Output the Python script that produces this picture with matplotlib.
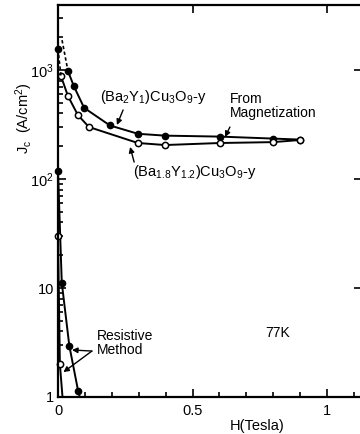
import matplotlib
matplotlib.use("Agg")
import matplotlib.pyplot as plt
from matplotlib.ticker import FixedLocator, NullFormatter, LogLocator

plt.rcParams['font.family'] = ['Liberation Sans', 'DejaVu Sans']
plt.rcParams['mathtext.fontset'] = 'custom'
plt.rcParams['mathtext.rm'] = 'Liberation Sans'
plt.rcParams['mathtext.it'] = 'Liberation Sans'

# magnetization data, H in tesla, Jc in A/cm2
h_ba2 = [0.037, 0.059, 0.097, 0.193, 0.297, 0.398, 0.602, 0.799, 0.90]
jc_ba2 = [980, 710, 450, 310, 260, 250, 245, 235, 230]
h_ba18 = [0.011, 0.037, 0.074, 0.115, 0.297, 0.398, 0.602, 0.799, 0.90]
jc_ba18 = [880, 577, 386, 300, 214, 205, 214, 218, 228]

# dashed extrapolation toward H=0
h_dash_ba2 = [0.015, 0.037]
jc_dash_ba2 = [1880, 980]
h_dash_ba18 = [0.0, 0.011]
jc_dash_ba18 = [1560, 880]

# resistive method
h_res_filled = [0.0, 0.014, 0.042, 0.075]
jc_res_filled = [118, 11.2, 2.96, 1.13]
h_res_open = [0.0, 0.007]
jc_res_open = [30, 2.0]

fig = plt.figure(figsize=(3.6, 4.34), dpi=100)
ax = fig.add_axes([58 / 360, 1 - 397 / 434, 304 / 360, 392 / 434])
ax.set_yscale('log')
ax.set_xlim(0, 1.13)
ax.set_ylim(1, 3950)

lw = 1.4
ax.plot(h_ba2, jc_ba2, '-', color='black', lw=lw, marker='o', ms=4.5,
        mfc='black', clip_on=False)
ax.plot(h_ba18, jc_ba18, '-', color='black', lw=lw, marker='o', ms=4.5,
        mfc='white', mew=1.1, clip_on=False)
ax.plot(h_dash_ba2, jc_dash_ba2, '--', color='black', lw=1.2, dashes=(2, 1.5))
ax.plot(h_dash_ba18, jc_dash_ba18, '--', color='black', lw=1.2, dashes=(2, 1.5))
ax.plot(h_dash_ba18[:1], jc_dash_ba18[:1], 'o', color='black', ms=4.5, clip_on=False)

# resistive curves run down to the axis
ax.plot(h_res_filled + [0.082], jc_res_filled + [0.98], '-', color='black', lw=lw)
ax.plot(h_res_filled, jc_res_filled, 'o', color='black', ms=4.5, clip_on=False)
ax.plot(h_res_open + [0.017], jc_res_open + [0.98], '-', color='black', lw=lw)
ax.plot(h_res_open, jc_res_open, 'o', color='black', mfc='white', mew=1.1,
        ms=4.5, clip_on=False)

# ticks
ax.xaxis.set_major_locator(FixedLocator([0, 0.5, 1]))
ax.set_xticklabels(['0', '0.5', '1'])
ax.xaxis.set_minor_locator(FixedLocator([0.1, 0.2, 0.3, 0.4, 0.6, 0.7, 0.8, 0.9, 1.1]))
ax.yaxis.set_major_locator(FixedLocator([1, 10, 100, 1000]))
ax.set_yticklabels(['1', '10', '10$^2$', '10$^3$'])
ax.yaxis.set_minor_locator(LogLocator(base=10, subs=range(2, 10), numticks=20))
ax.yaxis.set_minor_formatter(NullFormatter())
ax.tick_params(which='both', direction='in', labelsize=10.5, width=1.2)
ax.tick_params(axis='x', which='major', length=6, top=True, pad=5)
ax.tick_params(axis='x', which='minor', length=3.5)
ax.tick_params(axis='y', which='major', length=6, right=True, pad=3)
ax.tick_params(axis='y', which='minor', length=3.5)
for s in ax.spines.values():
    s.set_linewidth(1.6)

ax.set_xlabel('H(Tesla)', fontsize=10.5)
ax.xaxis.set_label_coords(0.655, -0.055)
ax.set_ylabel('J$_c$  (A/cm$^2$)', fontsize=10.5)
ax.yaxis.set_label_coords(-0.075, 0.71)

# annotations
arrow = dict(arrowstyle='-|>', color='black', lw=1.0, mutation_scale=8,
             shrinkA=0, shrinkB=0)
ax.text(0.155, 565, '(Ba$_2$Y$_1$)Cu$_3$O$_9$-y', fontsize=10.5,
        ha='left', va='center')
ax.annotate('', xy=(0.219, 313), xytext=(0.242, 430), arrowprops=arrow)
ax.text(0.28, 116, '(Ba$_{1.8}$Y$_{1.2}$)Cu$_3$O$_9$-y', fontsize=10.5,
        ha='left', va='center')
ax.annotate('', xy=(0.268, 197), xytext=(0.283, 143), arrowprops=arrow)
ax.text(0.639, 468, 'From\nMagnetization', fontsize=10, ha='left',
        va='center', linespacing=1.0)
ax.annotate('', xy=(0.621, 243), xytext=(0.639, 300), arrowprops=arrow)
ax.text(0.145, 3.13, 'Resistive\nMethod', fontsize=10, ha='left',
        va='center', linespacing=0.95)
ax.annotate('', xy=(0.052, 2.7), xytext=(0.126, 2.64), arrowprops=arrow)
ax.annotate('', xy=(0.020, 1.69), xytext=(0.126, 2.64), arrowprops=arrow)
ax.text(0.815, 3.9, '77K', fontsize=10, ha='center', va='center')

fig.savefig('out.png', dpi=100)
